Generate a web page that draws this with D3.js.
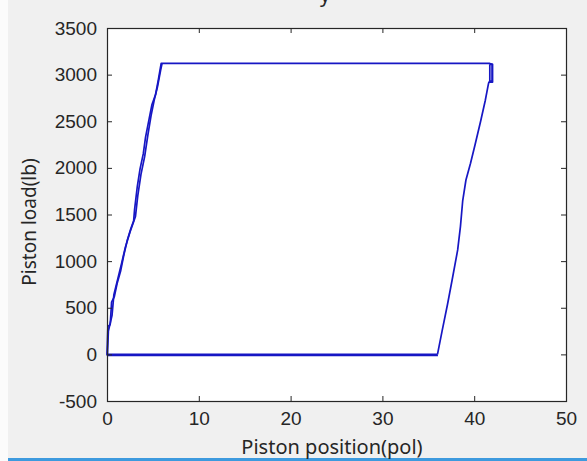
<!DOCTYPE html>
<html>
<head>
<meta charset="utf-8">
<script src="https://cdn.jsdelivr.net/npm/d3@7"></script>
<style>
  html, body { margin: 0; padding: 0; background: #f0f0f0; }
  svg { display: block; }
</style>
</head>
<body>
<div id="chart"></div>
<script>
// tick values
var xTicks = [0, 10, 20, 30, 40, 50];
var yTicks = [-500, 0, 500, 1000, 1500, 2000, 2500, 3000, 3500];

// cycle 1: piston position (pol) / load (lb)
var pos1 = [36.0, 0, 0.05, 0.1, 0.35, 0.5, 0.8, 1.1, 1.5, 1.8, 2.2, 2.6, 2.9, 3.0, 3.3, 3.6, 3.95, 4.2, 4.6, 4.9, 5.3, 5.6, 5.9,
            41.7, 42.0, 42.0, 41.6, 41.55, 41.2, 40.7, 40.1, 39.6, 39.1, 38.75, 38.5, 38.2, 37.6, 37.1, 36.5, 36.0];
var load1 = [0, 0, 150, 300, 320, 560, 620, 760, 900, 1050, 1220, 1350, 1430, 1550, 1800, 1990, 2150, 2330, 2530, 2680, 2790, 2950, 3120,
             3120, 3110, 2920, 2920, 2900, 2720, 2500, 2250, 2050, 1870, 1650, 1370, 1120, 800, 540, 250, 0];

// cycle 2: second pass on the loading branch and the unloaded stroke
var pos2 = [36.05, 0.05, 0.15, 0.55, 0.75, 1.2, 1.6, 2.0, 2.5, 3.1, 3.35, 3.7, 4.1, 4.45, 4.8, 5.15, 5.5, 5.85, 6.0];
var load2 = [-10, -10, 250, 420, 640, 820, 980, 1150, 1310, 1480, 1700, 1930, 2120, 2350, 2560, 2730, 2870, 3050, 3120];

// small loop at the end of the stroke
var pos3 = [41.7, 41.95, 41.95, 41.7, 41.7];
var load3 = [3110, 3110, 2930, 2930, 3110];

var xLabel = "Piston position(pol)";
var yLabel = "Piston load(lb)";

var width = 587, height = 461;
var margin = { left: 107, right: 21, top: 28, bottom: 60 };

var tickFont = '"Liberation Sans", Arial, sans-serif';
var titleFont = '"Noto Sans", "Open Sans", sans-serif';

var svg = d3.select("#chart").append("svg")
    .attr("width", width)
    .attr("height", height);

svg.append("rect").attr("width", width).attr("height", height).attr("fill", "#f0f0f0");
// white strip on left edge of the screenshot
svg.append("rect").attr("x", 0).attr("y", 0).attr("width", 8).attr("height", height).attr("fill", "#fbfbfb");
// window border at the bottom
svg.append("rect").attr("x", 8).attr("y", 458).attr("width", width - 8).attr("height", 3).attr("fill", "#3d9ade");

var x = d3.scaleLinear().domain([0, 50]).range([margin.left, width - margin.right]);
var y = d3.scaleLinear().domain([-500, 3500]).range([height - margin.bottom, margin.top]);

svg.append("rect")
    .attr("x", x(0)).attr("y", y(3500))
    .attr("width", x(50) - x(0)).attr("height", y(-500) - y(3500))
    .attr("fill", "#ffffff");

// title, mostly cut off at the top of the screenshot
svg.append("text")
    .attr("x", 320).attr("y", 2)
    .style("font-family", titleFont)
    .style("font-size", "20px")
    .attr("fill", "#262626")
    .text("y");

var line = d3.line().x(d => x(d[0])).y(d => y(d[1]));

var series = [d3.zip(pos1, load1), d3.zip(pos2, load2), d3.zip(pos3, load3)];

svg.append("g").selectAll("path")
    .data(series)
    .enter().append("path")
    .attr("d", line)
    .attr("fill", "none")
    .attr("stroke", "#1717c4")
    .attr("stroke-width", 1.7)
    .attr("stroke-linejoin", "round");

// axes, MATLAB style: ticks inside on all four sides
var tickLen = 5;
var fmt = d3.format("d");
var xAxisB = d3.axisBottom(x).tickValues(xTicks).tickSizeInner(-tickLen).tickSizeOuter(0).tickPadding(11).tickFormat(fmt);
var xAxisT = d3.axisTop(x).tickValues(xTicks).tickSizeInner(-tickLen).tickSizeOuter(0).tickFormat("");
var yAxisL = d3.axisLeft(y).tickValues(yTicks).tickSizeInner(-tickLen).tickSizeOuter(0).tickPadding(10).tickFormat(d => d < 0 ? "-" + Math.abs(d) : fmt(d));
var yAxisR = d3.axisRight(y).tickValues(yTicks).tickSizeInner(-tickLen).tickSizeOuter(0).tickFormat("");

function style(g) {
    g.select(".domain").remove();
    g.selectAll(".tick line").attr("stroke", "#262626");
    g.selectAll(".tick text")
        .attr("fill", "#262626")
        .style("font-family", tickFont)
        .style("font-size", "19px");
}

svg.append("g").attr("transform", "translate(0," + y(-500) + ")").call(xAxisB).call(style);
svg.append("g").attr("transform", "translate(0," + y(3500) + ")").call(xAxisT).call(style);
svg.append("g").attr("transform", "translate(" + x(0) + ",0)").call(yAxisL).call(style);
svg.append("g").attr("transform", "translate(" + x(50) + ",0)").call(yAxisR).call(style);

// frame
svg.append("rect")
    .attr("x", x(0) + 0.5).attr("y", y(3500) + 0.5)
    .attr("width", x(50) - x(0)).attr("height", y(-500) - y(3500))
    .attr("fill", "none")
    .attr("stroke", "#262626")
    .attr("stroke-width", 1.2);

svg.append("text")
    .attr("x", 332).attr("y", 454)
    .attr("text-anchor", "middle")
    .style("font-family", titleFont)
    .style("font-size", "20px")
    .attr("fill", "#262626")
    .text(xLabel);

svg.append("text")
    .attr("transform", "translate(36,222) rotate(-90)")
    .attr("text-anchor", "middle")
    .style("font-family", titleFont)
    .style("font-size", "19px")
    .attr("fill", "#262626")
    .text(yLabel);
</script>
</body>
</html>
